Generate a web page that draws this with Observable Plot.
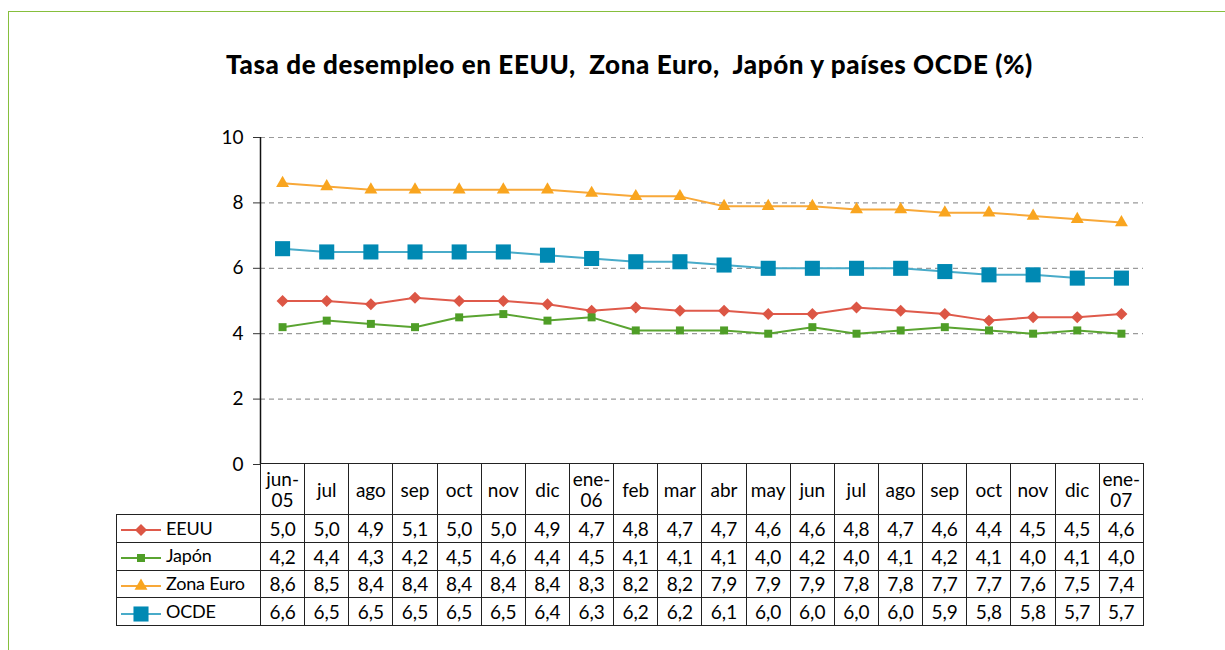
<!DOCTYPE html>
<html>
<head>
<meta charset="utf-8">
<script src="https://cdn.jsdelivr.net/npm/d3@7"></script>
<script src="https://cdn.jsdelivr.net/npm/@observablehq/plot@0.6"></script>
<style>
  html, body { margin: 0; padding: 0; background: #fff; width: 1225px; height: 650px; overflow: hidden; }
  #frame { position: absolute; left: 8px; top: 11px; width: 1240px; height: 700px; border: 1.5px solid #86bf3c; box-sizing: border-box; }
  #title { position: absolute; left: 0; width: 1259px; top: 48px; text-align: center; font-family: Lato, sans-serif; font-weight: 900; font-size: 26px; letter-spacing: 0.6px; color: #000; }
  #chart { position: absolute; left: 0; top: 120px; }
  #tbl { position: absolute; left: 116px; top: 463px; border-collapse: collapse; table-layout: fixed; font-family: Lato, sans-serif; font-size: 19px; color: #000; }
  #tbl td { border: 1.5px solid #222; text-align: center; padding: 0; overflow: hidden; white-space: nowrap; }
  #tbl tr.hdr td { height: 50px; line-height: 21px; white-space: pre; }
  #tbl tr.row td { height: 26.8px; }
  #tbl td.corner { border: none; }
  #tbl td.leg { text-align: left; font-size: 18px; letter-spacing: -0.2px; }
  #tbl td.leg svg { vertical-align: middle; margin-left: 4px; margin-right: 5px; }
</style>
</head>
<body>
<div id="frame"></div>
<div id="title">Tasa de desempleo en EEUU,&nbsp; Zona Euro,&nbsp; Japón y países OCDE (%)</div>
<div id="chart"></div>
<table id="tbl"></table>
<script>
const months = ["jun-\n05","jul","ago","sep","oct","nov","dic","ene-\n06","feb","mar","abr","may","jun","jul","ago","sep","oct","nov","dic","ene-\n07"];
const seriesNames = ["EEUU","Japón","Zona Euro","OCDE"];
const eeuu = [5.0,5.0,4.9,5.1,5.0,5.0,4.9,4.7,4.8,4.7,4.7,4.6,4.6,4.8,4.7,4.6,4.4,4.5,4.5,4.6];
const japon = [4.2,4.4,4.3,4.2,4.5,4.6,4.4,4.5,4.1,4.1,4.1,4.0,4.2,4.0,4.1,4.2,4.1,4.0,4.1,4.0];
const zonaEuro = [8.6,8.5,8.4,8.4,8.4,8.4,8.4,8.3,8.2,8.2,7.9,7.9,7.9,7.8,7.8,7.7,7.7,7.6,7.5,7.4];
const ocde = [6.6,6.5,6.5,6.5,6.5,6.5,6.4,6.3,6.2,6.2,6.1,6.0,6.0,6.0,6.0,5.9,5.8,5.8,5.7,5.7];
const yTicks = [0,2,4,6,8,10];

const seriesValues = [eeuu, japon, zonaEuro, ocde];
const styles = {
  "EEUU":      {line: "#df5a4b", fill: "#dc5645", symbol: "diamond2", r: 5.4},
  "Japón":     {line: "#5aa431", fill: "#4f9e27", symbol: "square", r: 4.5},
  "Zona Euro": {line: "#f8a838", fill: "#f9a51f", symbol: "triangle", r: 4.8},
  "OCDE":      {line: "#48abc9", fill: "#0089b3", symbol: "square", r: 8.5}
};

const data = [];
seriesNames.forEach((s, k) => seriesValues[k].forEach((v, i) => data.push({series: s, i, v})));

const marks = [
  Plot.ruleY(yTicks.filter(d => d > 0), {stroke: "#9a9a9a", strokeWidth: 1.2, strokeDasharray: "5,4"}),
  Plot.ruleX([-0.5], {y1: 0, y2: 10, stroke: "#111", strokeWidth: 1.5}),
  Plot.axisY({ticks: yTicks, tickFormat: d => String(d), tickSize: 7, tickPadding: 10, fontSize: 19, label: null, stroke: "#333", color: "#000"})
];
seriesNames.forEach(s => {
  const st = styles[s];
  const d = data.filter(e => e.series === s);
  marks.push(Plot.line(d, {x: "i", y: "v", stroke: st.line, strokeWidth: 2}));
  marks.push(Plot.dot(d, {x: "i", y: "v", symbol: () => st.symbol, fill: st.fill, r: st.r, stroke: "none"}));
});

const chart = Plot.plot({
  width: 1225,
  height: 346,
  marginLeft: 260,
  marginRight: 82,
  marginTop: 17,
  marginBottom: 2,
  x: {domain: [-0.5, months.length - 0.5], axis: null},
  y: {domain: [0, 10], axis: null},
  style: {fontFamily: "Lato, sans-serif", background: "transparent", overflow: "visible"},
  marks
});
document.getElementById("chart").appendChild(chart);

// data table below the chart
const tbl = document.getElementById("tbl");
const colW = (1225 - 260 - 82) / months.length;
const colgroup = document.createElement("colgroup");
const c0 = document.createElement("col"); c0.style.width = "144px"; colgroup.appendChild(c0);
months.forEach(() => { const c = document.createElement("col"); c.style.width = colW + "px"; colgroup.appendChild(c); });
tbl.appendChild(colgroup);
tbl.style.width = (144 + colW * months.length) + "px";

const hdr = document.createElement("tr"); hdr.className = "hdr";
const corner = document.createElement("td"); corner.className = "corner"; hdr.appendChild(corner);
months.forEach(m => { const td = document.createElement("td"); td.textContent = m; hdr.appendChild(td); });
tbl.appendChild(hdr);

function swatch(s) {
  const st = styles[s];
  const svg = d3.create("svg").attr("width", 40).attr("height", 20);
  svg.append("line").attr("x1", 0).attr("x2", 40).attr("y1", 10).attr("y2", 10).attr("stroke", st.line).attr("stroke-width", 2);
  const typ = st.symbol === "diamond2" ? d3.symbolDiamond2 : st.symbol === "square" ? d3.symbolSquare : d3.symbolTriangle;
  svg.append("path").attr("transform", "translate(20,10)").attr("d", d3.symbol(typ, Math.PI * st.r * st.r)()).attr("fill", st.fill);
  return svg.node();
}

seriesNames.forEach((s, k) => {
  const tr = document.createElement("tr"); tr.className = "row";
  const lg = document.createElement("td"); lg.className = "leg";
  lg.appendChild(swatch(s));
  lg.appendChild(document.createTextNode(s));
  tr.appendChild(lg);
  seriesValues[k].forEach(v => {
    const td = document.createElement("td");
    td.textContent = v.toFixed(1).replace(".", ",");
    tr.appendChild(td);
  });
  tbl.appendChild(tr);
});
</script>
</body>
</html>
